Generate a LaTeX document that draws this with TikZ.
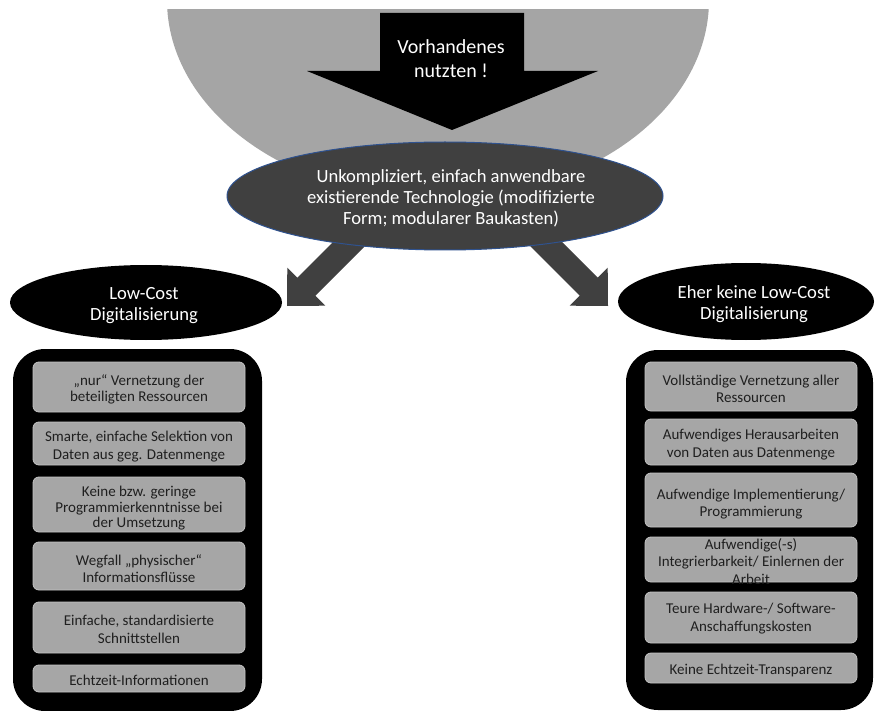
\documentclass[tikz,border=0pt]{standalone}
\usepackage{fontspec}
\setmainfont{Carlito}
\usetikzlibrary{shapes.geometric}
\definecolor{circgray}{HTML}{A5A5A5}
\definecolor{darkfill}{HTML}{404040}
\definecolor{rimblue}{HTML}{2F528F}
\definecolor{itemgray}{HTML}{A6A6A6}
\definecolor{itemrim}{HTML}{C4C4C4}
\definecolor{itemink}{HTML}{1F1F1F}
\begin{document}
\begin{tikzpicture}[x=1pt,y=-1pt,
  oval/.style={ellipse, fill=black, inner sep=0pt},
  ovaltext/.style={text=white, align=center, inner sep=0pt, font=\fontsize{18.6}{21}\selectfont},
  panel/.style={fill=black, rounded corners=32pt, inner sep=0pt},
  itembox/.style={draw=itemrim, line width=0.8pt, fill=itemgray, rounded corners=6pt, inner sep=0pt, minimum width=212pt},
  itemlabel/.style={text=itemink, align=center, inner sep=0pt, font=\fontsize{15}{17.5}\selectfont},
  tightlabel/.style={itemlabel, font=\fontsize{15}{15.5}\selectfont},
  blockarrow/.style={fill=darkfill}
]
\useasboundingbox (0,0) rectangle (875,711);
\fill[white] (0,0) rectangle (875,711);

% large grey background disc, cut off at the top
\begin{scope}
  \clip (0,10) rectangle (875,711);
  \fill[circgray] (438,0) ellipse [x radius=271, y radius=199];
\end{scope}

% black block arrow pointing down
\fill[black] (380,13) -- (524,13) -- (524,71) -- (598,71) -- (452,130)
  -- (307,71) -- (380,71) -- cycle;
\node[text=white, align=center, inner sep=0pt, font=\fontsize{20}{23.5}\selectfont]
  (reuse) at (451,58.5) {Vorhandenes\\nutzten !};

% diagonal block arrows (45 degrees, tips at the outer corners)
\coordinate (ltip) at (287,306);
\coordinate (rtip) at (608,306);
\fill[blockarrow] (357,218) -- (297.3,277.7) -- (287.3,267.7) -- (ltip)
  -- (325.3,305.7) -- (315.3,295.7) -- (375,236) -- cycle;
\fill[blockarrow] (538,218) -- (597.7,277.7) -- (607.7,267.7) -- (rtip)
  -- (569.7,305.7) -- (579.7,295.7) -- (520,236) -- cycle;

% central ellipse
\node[ellipse, fill=darkfill, draw=rimblue, line width=1pt, inner sep=0pt,
  minimum width=436pt, minimum height=108pt] (core) at (445,196) {};
\node[ovaltext] (coretext) at (451,198) {Unkompliziert, einfach anwendbare\\existierende Technologie (modifizierte\\Form; modularer Baukasten)};

% category ellipses
\node[oval, minimum width=272pt, minimum height=75pt] (lowcost) at (146,302.5) {};
\node[ovaltext] (lowcosttext) at (144,306) {Low-Cost\\Digitalisierung};
\node[oval, minimum width=256pt, minimum height=77pt] (highcost) at (746,301.5) {};
\node[ovaltext] (highcosttext) at (754,304) {Eher keine Low-Cost\\Digitalisierung};

% left panel
\node[panel, minimum width=249pt, minimum height=362pt] (lpanel) at (137.5,530) {};
\node[itembox, minimum height=50pt] (l1) at (139,387) {};
\node[tightlabel] (l1t) at (139,389.5) {„nur“ Vernetzung der\\beteiligten Ressourcen};
\node[itembox, minimum height=43pt] (l2) at (139,443.5) {};
\node[itemlabel] (l2t) at (139,446.5) {Smarte, einfache Selektion von\\Daten aus geg. Datenmenge};
\node[itembox, minimum height=55pt] (l3) at (139,504.5) {};
\node[tightlabel] (l3t) at (139,508.5) {Keine bzw. geringe\\Programmierkenntnisse bei\\der Umsetzung};
\node[itembox, minimum height=48pt] (l4) at (139,566) {};
\node[itemlabel] (l4t) at (139,568.5) {Wegfall „physischer“\\Informationsflüsse};
\node[itembox, minimum height=51pt] (l5) at (139,627.5) {};
\node[itemlabel] (l5t) at (139,629.5) {Einfache, standardisierte\\Schnittstellen};
\node[itembox, minimum height=27pt] (l6) at (139,678.5) {};
\node[itemlabel] (l6t) at (139,680.5) {Echtzeit-Informationen};

% right panel
\node[panel, minimum width=247pt, minimum height=360pt] (rpanel) at (749.5,530) {};
\node[itembox, minimum height=49pt] (r1) at (751,386.5) {};
\node[itemlabel] (r1t) at (751,389) {Vollständige Vernetzung aller\\Ressourcen};
\node[itembox, minimum height=46pt] (r2) at (751,442) {};
\node[itemlabel] (r2t) at (751,444.5) {Aufwendiges Herausarbeiten\\von Daten aus Datenmenge};
\node[itembox, minimum height=54pt] (r3) at (751,500) {};
\node[itemlabel] (r3t) at (751,504) {Aufwendige Implementierung/\\Programmierung};
\node[itembox, minimum height=45pt] (r4) at (751,559.5) {};
\node[itemlabel] (r4t) at (751,561.5) {Aufwendige(-s)\\Integrierbarkeit/ Einlernen der\\Arbeit};
\node[itembox, minimum height=51pt] (r5) at (751,617.5) {};
\node[itemlabel] (r5t) at (751,618.5) {Teure Hardware-/ Software-\\Anschaffungskosten};
\node[itembox, minimum height=30pt] (r6) at (751,668) {};
\node[itemlabel] (r6t) at (751,670.5) {Keine Echtzeit-Transparenz};
\end{tikzpicture}
\end{document}
